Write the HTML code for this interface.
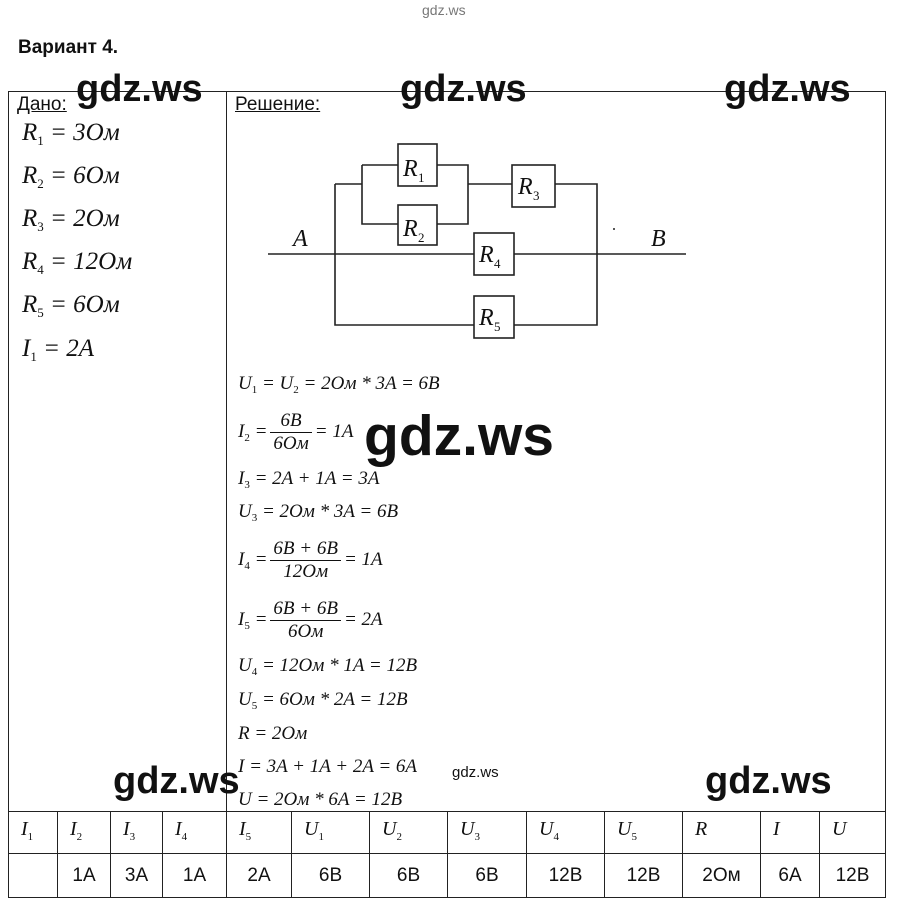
<!DOCTYPE html>
<html><head><meta charset="utf-8"><style>
body{margin:0;width:897px;height:910px;background:#fff;position:relative;overflow:hidden;font-family:"Liberation Sans",sans-serif;color:#111}
.a{position:absolute;white-space:nowrap}
.m{font-family:"Liberation Serif",serif;font-style:italic;font-size:19px;line-height:22px}
.m sub{font-size:11px;font-style:normal;vertical-align:-4px}
.g{font-family:"Liberation Serif",serif;font-style:italic;font-size:25px}
.g sub{font-size:13px;font-style:normal;vertical-align:-5px}
.w{font-weight:bold;font-size:38px;color:#111}
.fr{display:inline-block;vertical-align:middle;text-align:center;margin:0 3px}
.fr span{display:block;padding:0 3px}
.fr span+span{border-top:1px solid #111}
table{position:absolute;left:8px;top:811px;border-collapse:collapse;table-layout:fixed;width:877px}
td{border:1px solid #222;padding:0;font-size:19px;box-sizing:border-box}
.h td{height:42px;vertical-align:top;padding:6px 0 0 12px;font-family:"Liberation Serif",serif;font-style:italic;font-size:20px}
.h sub{font-size:11px;font-style:normal}
.v td{height:44px;text-align:center}
</style></head><body>
<div class="a" style="left:422px;top:2px;font-size:14px;color:#777">gdz.ws</div>
<div class="a" style="left:18px;top:37px;font-size:19px;font-weight:bold">Вариант 4.</div>
<div style="position:absolute;left:8px;top:91px;width:876px;height:720px;border:1px solid #222;border-bottom:none"></div>
<div style="position:absolute;left:226px;top:91px;width:1px;height:720px;background:#222"></div>
<div class="a" style="left:17px;top:94px;font-size:19px;text-decoration:underline">Дано:</div>
<div class="a" style="left:235px;top:94px;font-size:19px;text-decoration:underline">Решение:</div>
<div class="a g" style="left:22px;top:119px">R<sub>1</sub> = 3Ом</div>
<div class="a g" style="left:22px;top:162px">R<sub>2</sub> = 6Ом</div>
<div class="a g" style="left:22px;top:205px">R<sub>3</sub> = 2Ом</div>
<div class="a g" style="left:22px;top:248px">R<sub>4</sub> = 12Ом</div>
<div class="a g" style="left:22px;top:291px">R<sub>5</sub> = 6Ом</div>
<div class="a g" style="left:22px;top:335px">I<sub>1</sub> = 2A</div>

<svg class="a" style="left:0;top:0" width="897" height="910">
<g stroke="#222" stroke-width="1.6" fill="none">
<path d="M268 254H474M514 254H686"/>
<path d="M335 184V325H474M514 325H597V184H555"/>
<path d="M335 184H362M362 165V224H398M362 165H398M437 165H468V224H437M468 184H512"/>
<rect x="398" y="144" width="39" height="42"/><rect x="398" y="205" width="39" height="40"/>
<rect x="512" y="165" width="43" height="42"/><rect x="474" y="233" width="40" height="42"/><rect x="474" y="296" width="40" height="42"/>
</g>
<g font-family="Liberation Serif,serif" font-style="italic" font-size="24" fill="#111">
<text x="403" y="176">R</text><text x="418" y="182" font-size="13" font-style="normal">1</text>
<text x="403" y="236">R</text><text x="418" y="242" font-size="13" font-style="normal">2</text>
<text x="518" y="194">R</text><text x="533" y="200" font-size="13" font-style="normal">3</text>
<text x="479" y="262">R</text><text x="494" y="268" font-size="13" font-style="normal">4</text>
<text x="479" y="325">R</text><text x="494" y="331" font-size="13" font-style="normal">5</text>
<text x="293" y="246">A</text><text x="651" y="246">B</text>
</g>
<circle cx="614" cy="229" r="1" fill="#222"/>
</svg>

<div class="a m" style="left:238px;top:373px">U<sub>1</sub> = U<sub>2</sub> = 2Ом * 3A = 6B</div>
<div class="a m" style="left:238px;top:410px">I<sub>2</sub> =<span class="fr"><span>6B</span><span>6Ом</span></span>= 1A</div>
<div class="a m" style="left:238px;top:468px">I<sub>3</sub> = 2A + 1A = 3A</div>
<div class="a m" style="left:238px;top:501px">U<sub>3</sub> = 2Ом * 3A = 6B</div>
<div class="a m" style="left:238px;top:538px">I<sub>4</sub> =<span class="fr"><span>6B + 6B</span><span>12Ом</span></span>= 1A</div>
<div class="a m" style="left:238px;top:598px">I<sub>5</sub> =<span class="fr"><span>6B + 6B</span><span>6Ом</span></span>= 2A</div>
<div class="a m" style="left:238px;top:655px">U<sub>4</sub> = 12Ом * 1A = 12B</div>
<div class="a m" style="left:238px;top:689px">U<sub>5</sub> = 6Ом * 2A = 12B</div>
<div class="a m" style="left:238px;top:723px">R = 2Ом</div>
<div class="a m" style="left:238px;top:756px">I = 3A + 1A + 2A = 6A</div>
<div class="a m" style="left:238px;top:789px">U = 2Ом * 6A = 12B</div>

<div class="a w" style="left:76px;top:68px">gdz.ws</div>
<div class="a w" style="left:400px;top:68px">gdz.ws</div>
<div class="a w" style="left:724px;top:68px">gdz.ws</div>
<div class="a w" style="left:364px;top:403px;font-size:57px">gdz.ws</div>
<div class="a w" style="left:113px;top:760px">gdz.ws</div>
<div class="a w" style="left:705px;top:760px">gdz.ws</div>
<div class="a" style="left:452px;top:764px;font-size:15px">gdz.ws</div>

<table>
<colgroup><col style="width:49px"><col style="width:53px"><col style="width:52px"><col style="width:64px"><col style="width:65px"><col style="width:78px"><col style="width:78px"><col style="width:79px"><col style="width:78px"><col style="width:78px"><col style="width:78px"><col style="width:59px"><col style="width:66px"></colgroup>
<tr class="h"><td>I<sub>1</sub></td><td>I<sub>2</sub></td><td>I<sub>3</sub></td><td>I<sub>4</sub></td><td>I<sub>5</sub></td><td>U<sub>1</sub></td><td>U<sub>2</sub></td><td>U<sub>3</sub></td><td>U<sub>4</sub></td><td>U<sub>5</sub></td><td>R</td><td>I</td><td>U</td></tr>
<tr class="v"><td></td><td>1A</td><td>3A</td><td>1A</td><td>2A</td><td>6B</td><td>6B</td><td>6B</td><td>12B</td><td>12B</td><td>2Ом</td><td>6A</td><td>12B</td></tr>
</table>
</body></html>
